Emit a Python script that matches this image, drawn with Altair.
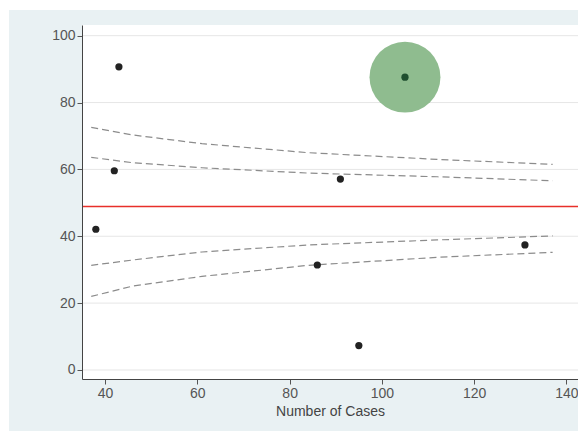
import altair as alt
import pandas as pd

# Units: number of cases and percentage outcome
cases = [38, 42, 43, 86, 91, 95, 105, 131]
rates = [42.1, 59.6, 90.7, 31.4, 57.1, 7.3, 87.6, 37.4]
flagged = [False, False, False, False, False, False, True, False]

# Overall average rate
mean_rate = 48.9

# Control limits read along the funnel
limit_n = [37, 46, 61, 84, 112, 137]
upper_outer = [72.6, 70.3, 67.7, 65.0, 63.0, 61.5]
upper_inner = [63.6, 62.0, 60.5, 58.9, 57.8, 56.6]
lower_inner = [31.3, 32.9, 35.3, 37.4, 38.9, 40.1]
lower_outer = [22.0, 25.1, 28.0, 31.3, 33.7, 35.2]

y_ticks = [0, 20, 40, 60, 80, 100]
x_ticks = [40, 60, 80, 100, 120, 140]

W, H = 496, 354
BG = "#e9f1f3"

points = pd.DataFrame({"n": cases, "rate": rates, "flag": flagged})
limits = pd.concat(
    [
        pd.DataFrame({"n": limit_n, "rate": vals, "band": name})
        for name, vals in [
            ("upper_outer", upper_outer),
            ("upper_inner", upper_inner),
            ("lower_inner", lower_inner),
            ("lower_outer", lower_outer),
        ]
    ]
)
grid = pd.DataFrame({"rate": y_ticks})
one = pd.DataFrame({"k": [0]})

xs = alt.Scale(domain=[35.0, 142.5], nice=False, zero=False)
ys = alt.Scale(domain=[-2.7, 103.2], nice=False, zero=False)

x_axis = alt.Axis(
    values=x_ticks, title="Number of Cases", grid=False, zindex=1,
    labelFontSize=14, labelColor="#555555", tickColor="#555555",
    domainColor="#444444", tickSize=5, labelPadding=2,
    titleFontSize=14, titleFontWeight="normal", titleColor="#444444",
    titlePadding=4,
)
y_axis = alt.Axis(
    values=y_ticks, title=None, grid=False, zindex=1,
    labelFontSize=14, labelColor="#555555", tickColor="#555555",
    domainColor="#444444", tickSize=5, labelPadding=2,
)

# Panel backdrop and white plotting field
backdrop = alt.Chart(one).mark_rect(color=BG).encode(
    x=alt.value(-73), x2=alt.value(W + 10),
    y=alt.value(-15), y2=alt.value(H + 60),
)
field = alt.Chart(one).mark_rect(color="white").encode(
    x=alt.value(0), x2=alt.value(W), y=alt.value(0), y2=alt.value(H),
)

gridlines = alt.Chart(grid).mark_rule(color="#e6e6e6", strokeWidth=1).encode(
    y=alt.Y("rate:Q", scale=ys, axis=y_axis),
)

funnel = alt.Chart(limits).mark_line(
    color="#8c8c8c", strokeWidth=1.2, strokeDash=[7, 4]
).encode(
    x=alt.X("n:Q", scale=xs, axis=x_axis),
    y=alt.Y("rate:Q", scale=ys, axis=y_axis),
    detail="band:N",
)

mean_line = alt.Chart(pd.DataFrame({"rate": [mean_rate]})).mark_rule(
    color="#e8302a", strokeWidth=1.6
).encode(y=alt.Y("rate:Q", scale=ys, axis=y_axis))

halo = alt.Chart(points).transform_filter("datum.flag").mark_circle(
    size=5030, color="#8fbc8f", opacity=1
).encode(
    x=alt.X("n:Q", scale=xs, axis=x_axis),
    y=alt.Y("rate:Q", scale=ys, axis=y_axis),
)

dots = alt.Chart(points).mark_circle(size=52, opacity=1).encode(
    x=alt.X("n:Q", scale=xs, axis=x_axis),
    y=alt.Y("rate:Q", scale=ys, axis=y_axis),
    color=alt.condition("datum.flag", alt.value("#1f4f2f"), alt.value("#222222")),
)

chart = alt.layer(
    backdrop, field, gridlines, funnel, mean_line, halo, dots
).properties(
    width=W, height=H,
    autosize=alt.AutoSizeParams(type="none"),
    padding={"left": 82, "top": 25, "right": 0, "bottom": 52},
    background="white",
).configure_view(stroke=None).configure_axis(
    labelFont="Liberation Sans", titleFont="Liberation Sans"
)

chart.save("out.html", embed_options={"renderer": "svg", "actions": False})
